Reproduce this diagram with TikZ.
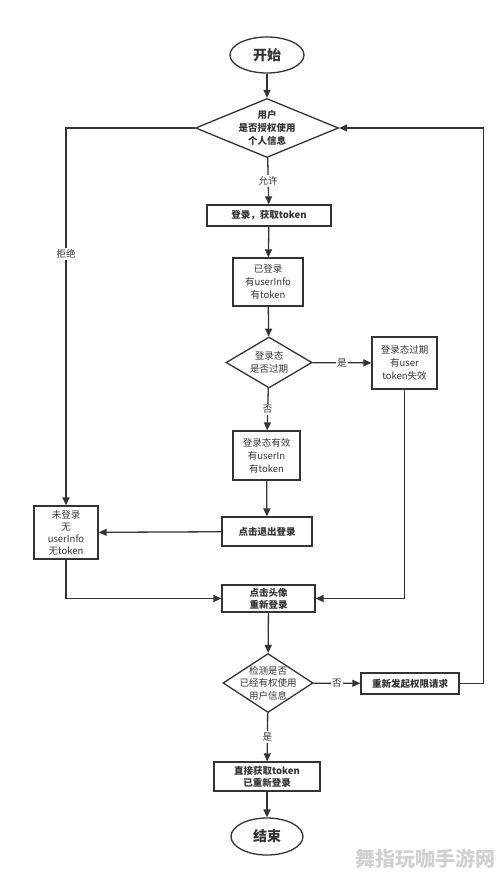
\documentclass[tikz,border=0pt]{standalone}
\usepackage{fontspec}
\setmainfont{Noto Sans CJK SC}
\usetikzlibrary{arrows.meta,shapes.geometric}
\definecolor{ink}{HTML}{333333}
\begin{document}
\begin{tikzpicture}[x=1pt,y=-1pt,
  every node/.style={text=ink,font=\fontsize{9.5}{13}\selectfont},
  box/.style={draw=ink,line width=1.3pt,rectangle,align=center,inner sep=0pt},
  bbox/.style={box,font=\fontsize{9.5}{13}\selectfont\bfseries},
  term/.style={draw=ink,line width=1.3pt,ellipse,inner sep=0pt,font=\fontsize{14}{16}\selectfont\bfseries},
  dia/.style={draw=ink,line width=1.3pt,diamond,inner sep=0pt},
  arr/.style={draw=ink,line width=1.3pt,-{Triangle[length=8pt,width=7pt]}},
  lbl/.style={fill=white,inner sep=1.5pt,font=\fontsize{9.5}{11}\selectfont}]
\useasboundingbox (0,0) rectangle (503,876);
\fill[white] (0,0) rectangle (503,876);

\node[term,minimum width=74pt,minimum height=36pt] (start) at (267,55) {开始};
\node[dia,minimum width=143pt,minimum height=59pt,
  label={[align=center,font=\fontsize{9.5}{13}\selectfont\bfseries,text=ink]center:用户\\是否授权使用\\个人信息}] (d1) at (267,128) {};
\node[bbox,minimum width=124pt,minimum height=21pt] (b1) at (269,215.5) {登录，获取token};
\node[box,minimum width=70pt,minimum height=48pt] (b2) at (268,282) {已登录\\有userInfo\\有token};
\node[dia,minimum width=86pt,minimum height=51pt,
  label={[align=center,text=ink]center:登录态\\是否过期}] (d2) at (269,362.5) {};
\node[box,minimum width=65pt,minimum height=52pt] (b3) at (404.5,363) {登录态过期\\有user\\token失效};
\node[box,minimum width=67pt,minimum height=49pt] (b4) at (266.5,455.5) {登录态有效\\有userIn\\有token};
\node[bbox,minimum width=90pt,minimum height=29pt] (b5) at (267,531.5) {点击退出登录};
\node[box,minimum width=64pt,minimum height=53pt,font=\fontsize{9.5}{12}\selectfont] (b6) at (66,532.5) {未登录\\无\\userInfo\\无token};
\node[bbox,minimum width=93pt,minimum height=27pt,font=\fontsize{9.5}{12}\selectfont\bfseries] (b7) at (268.5,598.5) {点击头像\\重新登录};
\node[dia,minimum width=90pt,minimum height=59pt,
  label={[align=center,text=ink,font=\fontsize{9.5}{12.5}\selectfont]center:检测是否\\已经有权使用\\用户信息}] (d3) at (268,683) {};
\node[bbox,minimum width=98pt,minimum height=21pt] (b8) at (410,683.5) {重新发起权限请求};
\node[bbox,minimum width=106pt,minimum height=29pt,font=\fontsize{9.5}{12}\selectfont\bfseries] (b9) at (267,776.5) {直接获取token\\已重新登录};
\node[term,minimum width=72pt,minimum height=37pt] (end) at (267,836.5) {结束};

\draw[arr] (start) -- (d1);
\draw[arr] (d1) -- node[lbl]{允许} (b1);
\draw[arr] (b1) -- (b2);
\draw[arr] (b2) -- (d2);
\draw[arr] (d2) -- node[lbl]{是} (b3);
\draw[arr] (d2) -- node[lbl]{否} (b4);
\draw[arr] (b4) -- (b5);
\draw[arr] (b5) -- (b6);
\draw[arr] (d1.west) -| node[lbl,pos=0.667]{拒绝} (b6.north);
\draw[arr] (b6.south) |- (b7.west);
\draw[arr] (b3.south) |- (b7.east);
\draw[arr] (b7) -- (d3);
\draw[arr] (d3) -- node[lbl]{否} (b8);
\draw[arr] (b8.east) -- ++(24,0) |- (d1.east);
\draw[arr] (d3) -- node[lbl]{是} (b9);
\draw[arr] (b9) -- (end);

\node[text=black!18,font=\fontsize{20}{22}\selectfont\bfseries] (wm) at (425,859) {舞指玩咖手游网};
\end{tikzpicture}
\end{document}
